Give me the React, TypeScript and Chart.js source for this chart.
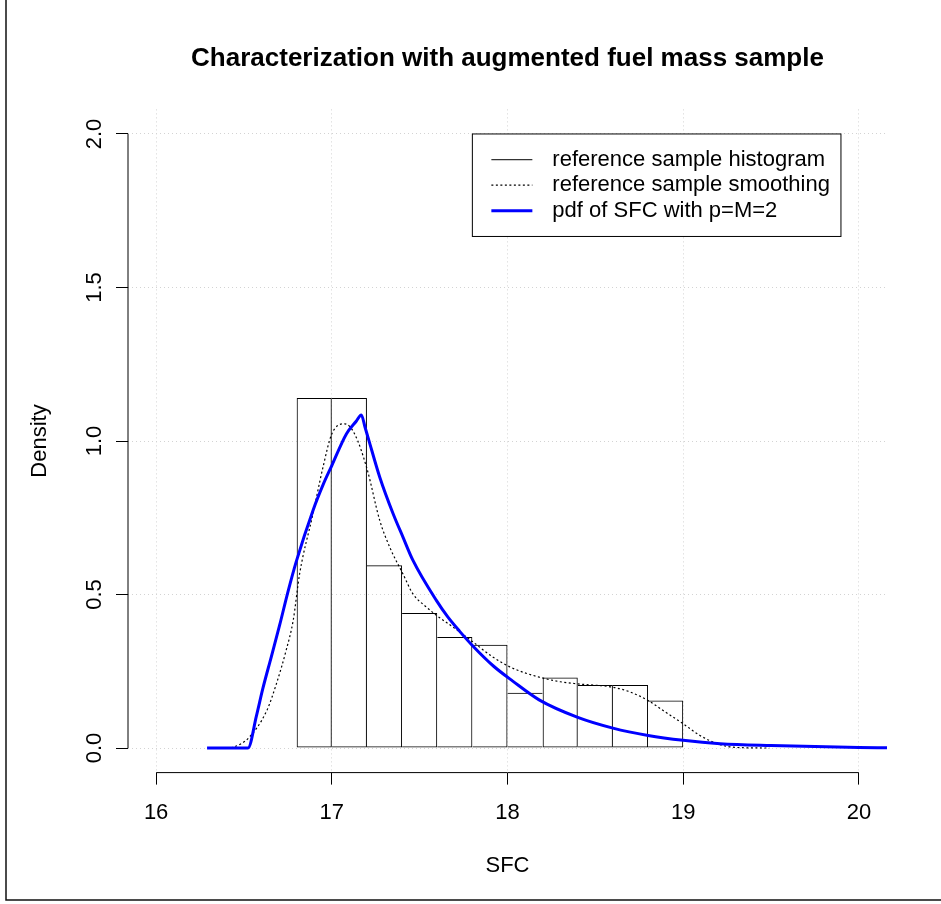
import React, { useEffect, useRef } from 'react';
import { Chart, registerables } from 'chart.js';

Chart.register(...registerables);

// ---------- data ----------
const histEdges = [16.8, 17.0, 17.2, 17.4, 17.6, 17.8, 18.0, 18.2, 18.4, 18.6, 18.8, 19.0];
const histDensity = [1.14, 1.14, 0.595, 0.44, 0.362, 0.336, 0.18, 0.23, 0.205, 0.205, 0.155];

const kdeX = [16.40, 16.45, 16.53, 16.63, 16.685, 16.74, 16.78, 16.817, 16.893, 16.95, 17.0, 17.073, 17.13, 17.2, 17.273, 17.33, 17.405, 17.462, 17.539, 17.596, 17.69, 17.77, 17.8, 17.918, 18.03, 18.18, 18.3, 18.4, 18.6, 18.7, 18.8, 18.886, 19.0, 19.095, 19.21, 19.3, 19.49];
const kdeY = [0.0, 0.005, 0.035, 0.122, 0.21, 0.318, 0.415, 0.568, 0.763, 0.915, 1.023, 1.056, 1.023, 0.91, 0.741, 0.654, 0.567, 0.502, 0.459, 0.432, 0.394, 0.36, 0.347, 0.296, 0.26, 0.231, 0.216, 0.209, 0.198, 0.182, 0.155, 0.122, 0.079, 0.041, 0.011, 0.002, 0.0];

const pdfX = [16.29, 16.523, 16.571, 16.608, 16.656, 16.703, 16.75, 16.798, 16.893, 16.95, 17.0, 17.083, 17.14, 17.168, 17.19, 17.206, 17.273, 17.349, 17.405, 17.462, 17.596, 17.66, 17.728, 17.8, 17.918, 18.03, 18.18, 18.4, 18.6, 18.8, 19.0, 19.21, 19.5, 20.0, 20.16];
const pdfY = [0.0, 0.0, 0.105, 0.195, 0.298, 0.4, 0.508, 0.608, 0.774, 0.857, 0.92, 1.023, 1.065, 1.085, 1.043, 1.012, 0.882, 0.763, 0.687, 0.611, 0.48, 0.427, 0.38, 0.334, 0.268, 0.218, 0.157, 0.1, 0.065, 0.041, 0.025, 0.014, 0.008, 0.002, 0.001];

const xTicks = [16, 17, 18, 19, 20];
const xTickLabels = ['16', '17', '18', '19', '20'];
const yTicks = [0, 0.5, 1.0, 1.5, 2.0];
const yTickLabels = ['0.0', '0.5', '1.0', '1.5', '2.0'];
const xLim = [16, 20];
const yLim = [0, 2];

const titleText = 'Characterization with augmented fuel mass sample';
const xTitle = 'SFC';
const yTitle = 'Density';
const legendLabels = ['reference sample histogram', 'reference sample smoothing', 'pdf of SFC with p=M=2'];
const legendAnchor = [17.8, 2.0];

// ---------- styles ----------
const FONT = "'Liberation Sans', Arial, Helvetica, sans-serif";
const BASE = 22;
const GRID = '#d3d3d3';

const rPlugin = {
  id: 'rDecor',
  afterDraw(chart: any) {
    const { ctx, chartArea: ca, scales } = chart;
    const xs = scales.x;
    const ys = scales.y;
    ctx.save();
    // axis lines (R style, from first to last tick)
    ctx.strokeStyle = '#000';
    ctx.lineWidth = 1;
    ctx.setLineDash([]);
    ctx.beginPath();
    ctx.moveTo(xs.getPixelForValue(xTicks[0]), ca.bottom);
    ctx.lineTo(xs.getPixelForValue(xTicks[xTicks.length - 1]), ca.bottom);
    ctx.moveTo(ca.left, ys.getPixelForValue(yTicks[0]));
    ctx.lineTo(ca.left, ys.getPixelForValue(yTicks[yTicks.length - 1]));
    ctx.stroke();

    // legend
    ctx.font = `${BASE}px ${FONT}`;
    const textW = Math.max(...legendLabels.map((t) => ctx.measureText(t).width));
    const left = xs.getPixelForValue(legendAnchor[0]);
    const top = ys.getPixelForValue(legendAnchor[1]);
    const padL = 19, segW = 41, gap = 20, padR = 11, rowH = 25.5, padT = 13;
    const w = padL + segW + gap + textW + padR;
    const h = padT * 2 + rowH * legendLabels.length;
    ctx.fillStyle = '#fff';
    ctx.fillRect(left, top, w, h);
    ctx.strokeStyle = '#000';
    ctx.lineWidth = 1;
    ctx.strokeRect(left, top, w, h);
    const styles = [
      { color: '#000', width: 1, dash: [] as number[] },
      { color: '#000', width: 1.2, dash: [2, 2.5] },
      { color: '#0000ff', width: 3, dash: [] as number[] },
    ];
    legendLabels.forEach((lab, i) => {
      const cy = top + padT + rowH / 2 + i * rowH;
      const st = styles[i];
      ctx.strokeStyle = st.color;
      ctx.lineWidth = st.width;
      ctx.setLineDash(st.dash);
      ctx.beginPath();
      ctx.moveTo(left + padL, cy);
      ctx.lineTo(left + padL + segW, cy);
      ctx.stroke();
      ctx.setLineDash([]);
      ctx.fillStyle = '#000';
      ctx.textAlign = 'left';
      ctx.textBaseline = 'middle';
      ctx.fillText(lab, left + padL + segW + gap, cy);
    });

    // device frame
    ctx.strokeStyle = '#111';
    ctx.lineWidth = 1.5;
    ctx.beginPath();
    ctx.moveTo(6, 0);
    ctx.lineTo(6, 900);
    ctx.lineTo(chart.width, 900);
    ctx.stroke();
    ctx.restore();
  },
};

export default function App() {
  const ref = useRef<HTMLCanvasElement>(null);

  useEffect(() => {
    const canvas = ref.current;
    if (!canvas) return;
    const xr = xLim[1] - xLim[0];
    const yr = yLim[1] - yLim[0];
    const xMin = xLim[0] - 0.04 * xr;
    const xMax = xLim[1] + 0.04 * xr;
    const yMin = yLim[0] - 0.04 * yr;
    const yMax = yLim[1] + 0.04 * yr;

    const histData = histDensity.map((d, i) => ({ x: (histEdges[i] + histEdges[i + 1]) / 2, y: d }));
    const kdeData = kdeX.map((x, i) => ({ x, y: kdeY[i] }));
    const pdfData = pdfX.map((x, i) => ({ x, y: pdfY[i] }));

    const font = { family: FONT, size: BASE, lineHeight: 1.2 };
    const gridOpts = {
      color: GRID,
      lineWidth: 1,
      offset: false,
      tickColor: '#000',
      tickLength: 12,
      tickWidth: 1,
      tickBorderDash: [],
    };

    const chart = new Chart(canvas, {
      type: 'bar',
      data: {
        datasets: [
          {
            type: 'line',
            label: legendLabels[2],
            data: pdfData,
            borderColor: '#0000ff',
            borderWidth: 3,
            pointRadius: 0,
            cubicInterpolationMode: 'monotone',
            fill: false,
            order: 0,
          } as any,
          {
            type: 'line',
            label: legendLabels[1],
            data: kdeData,
            borderColor: '#000',
            borderWidth: 1.2,
            borderDash: [2, 2.5],
            pointRadius: 0,
            cubicInterpolationMode: 'monotone',
            fill: false,
            order: 1,
          } as any,
          {
            type: 'bar',
            label: legendLabels[0],
            data: histData,
            backgroundColor: 'rgba(0,0,0,0)',
            borderColor: '#000',
            borderSkipped: false,
            inflateAmount: 0,
            borderWidth: (c: any) => {
              const i = c.dataIndex;
              const hgt = histDensity;
              if (i === undefined) return 1;
              return {
                top: 1,
                bottom: 1,
                left: i === 0 || hgt[i] > hgt[i - 1] ? 1 : 0,
                right: i === hgt.length - 1 || hgt[i] >= hgt[i + 1] ? 1 : 0,
              };
            },
            barPercentage: 1,
            categoryPercentage: 1,
            order: 2,
          } as any,
        ],
      },
      options: {
        responsive: false,
        devicePixelRatio: 1,
        animation: false,
        layout: { padding: { left: 0, right: 54, top: 0, bottom: 0 }, autoPadding: false },
        plugins: {
          legend: { display: false },
          tooltip: { enabled: false },
          title: {
            display: true,
            text: titleText,
            color: '#000',
            fullSize: false,
            font: { family: FONT, size: 26, weight: 'bold', lineHeight: 1.2 },
            padding: { top: 43, bottom: 35.2 },
          },
        },
        scales: {
          x: {
            type: 'linear',
            min: xMin,
            max: xMax,
            offset: false,
            afterBuildTicks: (s: any) => {
              s.ticks = xTicks.map((v) => ({ value: v }));
            },
            afterFit: (s: any) => {
              s.height = 131.4;
            },
            ticks: {
              color: '#000',
              font,
              padding: 15,
              maxRotation: 0,
              autoSkip: false,
              callback: (_v: any, i: number) => xTickLabels[i],
            },
            grid: gridOpts,
            border: { display: false, dash: [1, 3] },
            title: { display: true, text: xTitle, color: '#000', font, padding: { top: 0, bottom: 25 } },
          } as any,
          y: {
            type: 'linear',
            min: yMin,
            max: yMax,
            afterBuildTicks: (s: any) => {
              s.ticks = yTicks.map((v) => ({ value: v }));
            },
            afterFit: (s: any) => {
              s.width = 128;
            },
            ticks: {
              color: '#000',
              font,
              padding: 6,
              minRotation: 90,
              maxRotation: 90,
              crossAlign: 'center',
              autoSkip: false,
              callback: (_v: any, i: number) => yTickLabels[i],
            },
            grid: gridOpts,
            border: { display: false, dash: [1, 3] },
            title: { display: true, text: yTitle, color: '#000', font, padding: { top: 27, bottom: 0 } },
          } as any,
        },
      } as any,
      plugins: [rPlugin],
    });
    return () => chart.destroy();
  }, []);

  return (
    <div style={{ position: 'absolute', left: 0, top: 0, width: 941, height: 904, background: '#fff' }}>
      <canvas ref={ref} width={941} height={904} style={{ display: 'block', width: 941, height: 904 }} />
    </div>
  );
}
